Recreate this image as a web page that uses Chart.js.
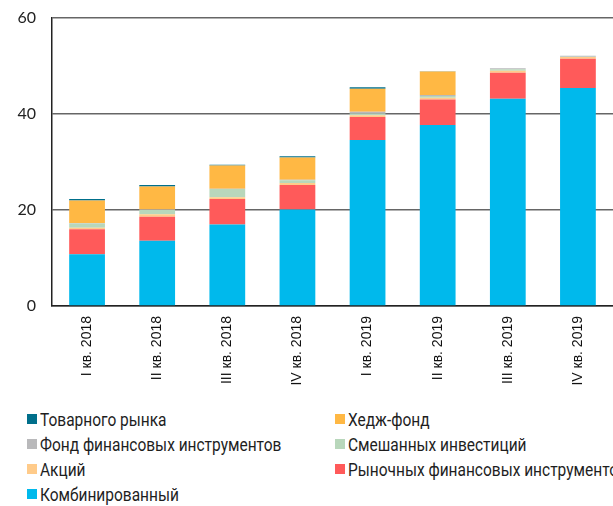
<!DOCTYPE html>
<html>
<head>
<meta charset="utf-8">
<script src="https://cdn.jsdelivr.net/npm/chart.js@4"></script>
<style>
  body { margin: 0; background: #fff; }
  #wrap { position: relative; width: 613px; height: 506px; overflow: hidden; }
  #box { position: absolute; left: 0; top: 0; width: 613px; height: 402px; }
  #legend {
    position: absolute; left: 27px; top: 409px; width: 600px;
    display: grid; grid-template-columns: 308px 300px; row-gap: 5px;
    font-family: Roboto, sans-serif;
    font-size: 18px; color: #1e1e1e; white-space: nowrap;
  }
  .item { display: flex; align-items: center; height: 20px; }
  .sw { width: 10px; height: 10px; margin-right: 3px; flex: none; }
  .txt { display: inline-block; transform: scaleX(0.86); transform-origin: left center; }
</style>
</head>
<body>
<div id="wrap">
  <div id="box"><canvas id="chart"></canvas></div>
  <div id="legend"></div>
</div>
<script>
const quarters = ['I кв. 2018', 'II кв. 2018', 'III кв. 2018', 'IV кв. 2018',
                  'I кв. 2019', 'II кв. 2019', 'III кв. 2019', 'IV кв. 2019'];

// stacked from the bottom up
const combined  = [10.8, 13.6, 17.0, 20.1, 34.6, 37.7, 43.2, 45.4];
const market    = [5.2, 5.0, 5.3, 5.1, 4.8, 5.3, 5.4, 6.1];
const stocks    = [0.3, 0.5, 0.35, 0.45, 0.35, 0.4, 0.4, 0.4];
const mixed     = [0.9, 0.9, 1.7, 0.55, 0.35, 0.35, 0.3, 0.05];
const finFund   = [0.1, 0.1, 0.1, 0.1, 0.35, 0.2, 0.25, 0.2];
const hedge     = [4.7, 4.8, 4.8, 4.65, 4.8, 4.9, 0, 0];
const commodity = [0.3, 0.3, 0.2, 0.25, 0.3, 0.05, 0, 0];

const yTicks = [0, 20, 40, 60];

const series = [
  { label: 'Комбинированный', data: combined, color: '#00b9ec' },
  { label: 'Рыночных финансовых инструментов', data: market, color: '#ff5a5a' },
  { label: 'Акций', data: stocks, color: '#ffcb8a' },
  { label: 'Смешанных инвестиций', data: mixed, color: '#b8d7bb' },
  { label: 'Фонд финансовых инструментов', data: finFund, color: '#b9b9bb' },
  { label: 'Хедж-фонд', data: hedge, color: '#ffb844' },
  { label: 'Товарного рынка', data: commodity, color: '#006f8b' }
];

const ctx = document.getElementById('chart').getContext('2d');
const chart = new Chart(ctx, {
  type: 'bar',
  data: {
    labels: quarters,
    datasets: series.map(s => ({
      label: s.label,
      data: s.data,
      backgroundColor: s.color,
      borderWidth: 0,
      barPercentage: 0.51,
      categoryPercentage: 1
    }))
  },
  options: {
    responsive: true,
    maintainAspectRatio: false,
    animation: false,
    layout: { padding: { top: 18, left: 0, right: 0, bottom: 0 } },
    plugins: {
      legend: { display: false },
      tooltip: { enabled: false }
    },
    scales: {
      x: {
        stacked: true,
        afterFit: axis => { axis.height = 96; },
        grid: { display: false, drawTicks: false },
        border: { display: true, color: '#222', width: 1.5 },
        ticks: {
          minRotation: 90, maxRotation: 90, padding: 10,
          color: '#111',
          font: { family: '"Liberation Sans", Arial, sans-serif', size: 14 }
        }
      },
      y: {
        stacked: true,
        min: 0, max: 60,
        afterBuildTicks: axis => { axis.ticks = yTicks.map(v => ({ value: v })); },
        afterFit: axis => { axis.width = 52; axis.paddingTop = 0; axis.paddingBottom = 0; },
        grid: { color: '#666', lineWidth: 1.5, drawTicks: false },
        border: { display: true, color: '#222', width: 1.5 },
        ticks: {
          padding: 16,
          color: '#222',
          font: { family: 'Lato, "Open Sans", sans-serif', size: 16 }
        }
      }
    }
  }
});

// legend in two columns, same order as the original picture
const legendOrder = ['Товарного рынка', 'Хедж-фонд', 'Фонд финансовых инструментов',
                     'Смешанных инвестиций', 'Акций', 'Рыночных финансовых инструментов',
                     'Комбинированный'];
const legendEl = document.getElementById('legend');
legendOrder.forEach(name => {
  const ds = chart.data.datasets.find(d => d.label === name);
  const item = document.createElement('div');
  item.className = 'item';
  const sw = document.createElement('span');
  sw.className = 'sw';
  sw.style.background = ds.backgroundColor;
  const txt = document.createElement('span');
  txt.className = 'txt';
  txt.textContent = ds.label;
  item.appendChild(sw);
  item.appendChild(txt);
  legendEl.appendChild(item);
});
</script>
</body>
</html>
